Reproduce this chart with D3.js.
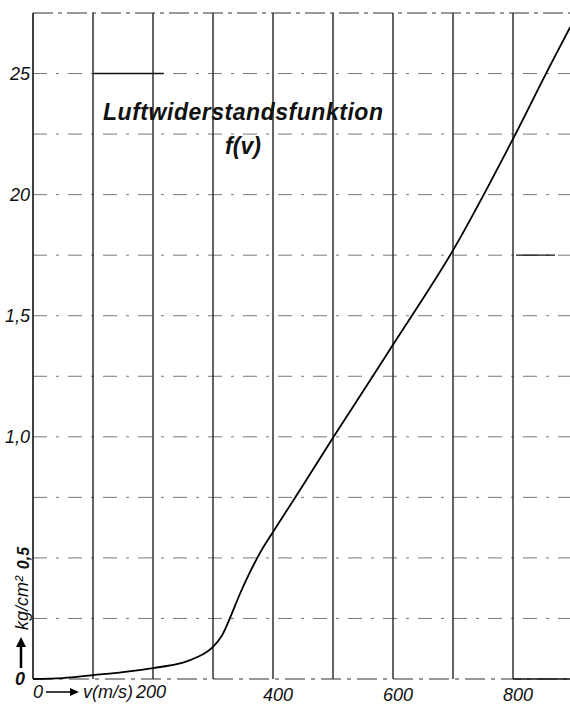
<!DOCTYPE html>
<html>
<head>
<style>
  body { margin: 0; background: #fff; }
  text { font-family: "Liberation Sans", Arial, sans-serif; font-style: italic; fill: #111; }
</style>
</head>
<body>
<svg class="chart"></svg>
<script src="https://d3js.org/d3.v7.min.js"></script>
<script>
// velocity v (m/s) and drag function f(v) (kg/cm^2)
var speed = [0, 50, 100, 150, 200, 250, 275, 290, 300, 315, 330, 345, 362, 380, 400, 450, 500, 600, 700, 800, 855, 895];
var drag  = [0, 0.004, 0.016, 0.028, 0.045, 0.068, 0.092, 0.113, 0.133, 0.18, 0.262, 0.352, 0.443, 0.528, 0.607, 0.80, 0.996, 1.38, 1.77, 2.23, 2.50, 2.69];

var xGrid = [100, 200, 300, 400, 500, 600, 700, 800];
var yGrid = [0.25, 0.5, 0.75, 1.0, 1.25, 1.5, 1.75, 2.0, 2.25, 2.5];
var xTicks = [400, 600, 800];
var yTickVals = [1.0, 1.5, 2.0, 2.5];
var yTickText = ["1,0", "1,5", "20", "25"];

var width = 570, height = 704;

var x = d3.scaleLinear().domain([0, 895]).range([33, 570]);
var y = d3.scaleLinear().domain([0, 2.75]).range([679, 13]);

var chart = d3.select(".chart")
    .attr("width", width)
    .attr("height", height);

// horizontal dash-dot grid
chart.selectAll(".hgrid")
    .data(yGrid)
  .enter().append("line")
    .attr("x1", x(0)).attr("x2", width)
    .attr("y1", function(d) { return y(d); })
    .attr("y2", function(d) { return y(d); })
    .attr("stroke", "#777")
    .attr("stroke-width", 1)
    .attr("stroke-dasharray", "14,9,3,9");

// top and bottom border lines
chart.append("line")
    .attr("x1", x(0)).attr("x2", width)
    .attr("y1", y(2.75)).attr("y2", y(2.75))
    .attr("stroke", "#333").attr("stroke-width", 1.2)
    .attr("stroke-dasharray", "20,5,4,5");
chart.append("line")
    .attr("x1", x(0)).attr("x2", width)
    .attr("y1", y(0)).attr("y2", y(0))
    .attr("stroke", "#333").attr("stroke-width", 1.2)
    .attr("stroke-dasharray", "20,6,4,6");
chart.append("line")
    .attr("x1", x(800)).attr("x2", width)
    .attr("y1", y(0)).attr("y2", y(0))
    .attr("stroke", "#111").attr("stroke-width", 1.5);
chart.append("line")
    .attr("x1", x(805)).attr("x2", x(870))
    .attr("y1", y(1.75)).attr("y2", y(1.75))
    .attr("stroke", "#111").attr("stroke-width", 1.3);

// vertical grid
chart.selectAll(".vgrid")
    .data(xGrid)
  .enter().append("line")
    .attr("x1", function(d) { return x(d); })
    .attr("x2", function(d) { return x(d); })
    .attr("y1", y(2.75)).attr("y2", y(0))
    .attr("stroke", "#222")
    .attr("stroke-width", 1.4);

// left axis
chart.append("line")
    .attr("x1", x(0)).attr("x2", x(0))
    .attr("y1", y(2.75)).attr("y2", y(0))
    .attr("stroke", "#111").attr("stroke-width", 1.6);

// short solid bar at 2.5
chart.append("line")
    .attr("x1", x(100)).attr("x2", x(218))
    .attr("y1", y(2.5)).attr("y2", y(2.5))
    .attr("stroke", "#111").attr("stroke-width", 1.5);

// curve
var line = d3.line()
    .x(function(d) { return x(d[0]); })
    .y(function(d) { return y(d[1]); })
    .curve(d3.curveCatmullRom.alpha(0.5));

chart.append("path")
    .datum(d3.zip(speed, drag))
    .attr("d", line)
    .attr("fill", "none")
    .attr("stroke", "#000")
    .attr("stroke-width", 1.8);

// y tick labels
chart.selectAll(".ylab")
    .data(yTickVals)
  .enter().append("text")
    .attr("x", 30)
    .attr("y", function(d) { return y(d) + 6; })
    .attr("text-anchor", "end")
    .style("font-size", "18px")
    .text(function(d, i) { return yTickText[i]; });

chart.append("text")
    .attr("x", 25).attr("y", y(0) + 6)
    .attr("text-anchor", "end")
    .style("font-size", "18px").style("font-weight", "bold")
    .text("0");

chart.append("text")
    .attr("transform", "translate(29,558) rotate(-90)")
    .attr("text-anchor", "middle")
    .style("font-size", "16px").style("font-weight", "bold")
    .text("0,5");

// unit label, rotated, with arrow
chart.append("text")
    .attr("transform", "translate(28,603) rotate(-90)")
    .attr("text-anchor", "middle")
    .style("font-size", "18px")
    .text("kg/cm²");
chart.append("line")
    .attr("x1", 21).attr("x2", 21)
    .attr("y1", 668).attr("y2", 646)
    .attr("stroke", "#000").attr("stroke-width", 2.5);
chart.append("path")
    .attr("d", "M16,647 L21,637 L26,647 Z")
    .attr("fill", "#000");

// x tick labels
chart.selectAll(".xlab")
    .data(xTicks)
  .enter().append("text")
    .attr("x", function(d) { return x(d) + 5; })
    .attr("y", 701)
    .attr("text-anchor", "middle")
    .style("font-size", "18px")
    .text(function(d) { return d; });

chart.append("text")
    .attr("x", 33).attr("y", 698)
    .style("font-size", "18px")
    .text("0");
chart.append("line")
    .attr("x1", 46).attr("x2", 72)
    .attr("y1", 692).attr("y2", 692)
    .attr("stroke", "#000").attr("stroke-width", 1.5);
chart.append("path")
    .attr("d", "M70,688 L79,692 L70,696 Z")
    .attr("fill", "#000");
chart.append("text")
    .attr("x", 83).attr("y", 698)
    .style("font-size", "18px")
    .text("v(m/s)");
chart.append("text")
    .attr("x", x(200) - 2).attr("y", 698)
    .attr("text-anchor", "middle")
    .style("font-size", "18px")
    .text("200");

// title
chart.append("text")
    .attr("x", 243).attr("y", 120)
    .attr("text-anchor", "middle")
    .attr("textLength", 280)
    .style("font-size", "23px").style("font-weight", "bold")
    .text("Luftwiderstandsfunktion");
chart.append("text")
    .attr("x", 243).attr("y", 154)
    .attr("text-anchor", "middle")
    .style("font-size", "23px").style("font-weight", "bold")
    .text("f(v)");
</script>
</body>
</html>
